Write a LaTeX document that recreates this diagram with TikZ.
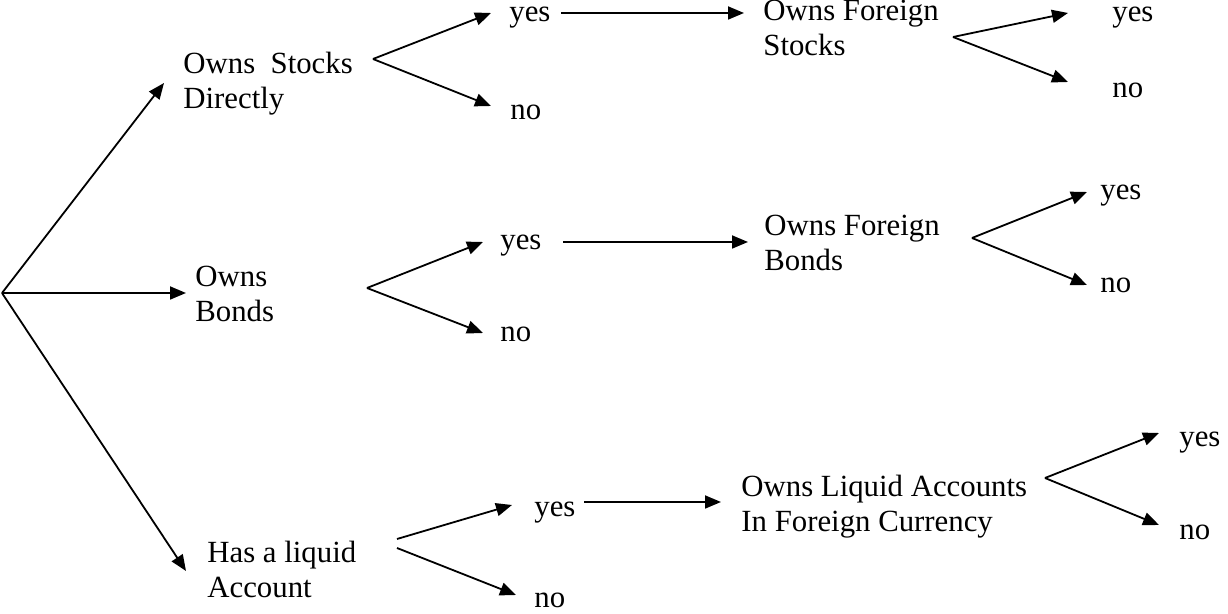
\documentclass[tikz,border=0pt]{standalone}
\usepackage{fontspec}
\setmainfont{Liberation Serif}
\usetikzlibrary{arrows.meta}
\begin{document}
\begin{tikzpicture}[x=0.5pt,y=-0.5pt,
  lbl/.style={anchor=base west,inner sep=0pt,align=left,font=\fontsize{15.4}{17.7}\selectfont},
  arr/.style={line width=0.9pt,-{Triangle[length=8pt,width=6.5pt]}}]
\useasboundingbox (0,0) rectangle (1228,614);
% text nodes (base anchor = baseline of the last line)
\node[lbl] (sd) at (183,109) {Owns\ \ Stocks\\Directly};
\node[lbl] (ob) at (195,322) {Owns\\Bonds};
\node[lbl] (la) at (207,598) {Has a liquid\\Account};
\node[lbl] (y1) at (509,22) {yes};
\node[lbl] (n1) at (510,120) {no};
\node[lbl] (y2) at (500,250) {yes};
\node[lbl] (n2) at (500,342) {no};
\node[lbl] (y3) at (534,517) {yes};
\node[lbl] (n3) at (534,608) {no};
\node[lbl] (fs) at (763,56) {Owns Foreign\\Stocks};
\node[lbl] (fb) at (764,271) {Owns Foreign\\Bonds};
\node[lbl] (fl) at (741,532) {Owns Liquid Accounts\\In Foreign Currency};
\node[lbl] (fy1) at (1112,22) {yes};
\node[lbl] (fn1) at (1112,98) {no};
\node[lbl] (fy2) at (1100,200) {yes};
\node[lbl] (fn2) at (1100,293) {no};
\node[lbl] (fy3) at (1179,447) {yes};
\node[lbl] (fn3) at (1179,540) {no};
% branch points and arrow ends
\coordinate (root) at (2,293);
\coordinate (sdin) at (164,83);
\coordinate (obin) at (186,293);
\coordinate (lain) at (186,571);
\coordinate (v1) at (373,59);
\coordinate (v2) at (367,288);
\coordinate (v3a) at (397,539);
\coordinate (v3b) at (397,548);
\coordinate (v4) at (953,37);
\coordinate (v5) at (972,238);
\coordinate (v6) at (1045,478);
\coordinate (y1in) at (491,13);
\coordinate (n1in) at (491,106);
\coordinate (y2in) at (483,242);
\coordinate (n2in) at (483,333);
\coordinate (y3in) at (512,505);
\coordinate (n3in) at (516,595);
\coordinate (h1s) at (561,13);
\coordinate (h1e) at (744,13);
\coordinate (h2s) at (563,242);
\coordinate (h2e) at (748,242);
\coordinate (h3s) at (584,502);
\coordinate (h3e) at (721,502);
\coordinate (fy1in) at (1068,13);
\coordinate (fn1in) at (1068,82);
\coordinate (fy2in) at (1087,192);
\coordinate (fn2in) at (1087,285);
\coordinate (fy3in) at (1159,433);
\coordinate (fn3in) at (1159,525);
% connectors
\draw[arr] (root) -- (sdin);
\draw[arr] (root) -- (obin);
\draw[arr] (root) -- (lain);
\draw[arr] (v1) -- (y1in);
\draw[arr] (v1) -- (n1in);
\draw[arr] (v2) -- (y2in);
\draw[arr] (v2) -- (n2in);
\draw[arr] (v3a) -- (y3in);
\draw[arr] (v3b) -- (n3in);
\draw[arr] (h1s) -- (h1e);
\draw[arr] (h2s) -- (h2e);
\draw[arr] (h3s) -- (h3e);
\draw[arr] (v4) -- (fy1in);
\draw[arr] (v4) -- (fn1in);
\draw[arr] (v5) -- (fy2in);
\draw[arr] (v5) -- (fn2in);
\draw[arr] (v6) -- (fy3in);
\draw[arr] (v6) -- (fn3in);
\end{tikzpicture}
\end{document}
